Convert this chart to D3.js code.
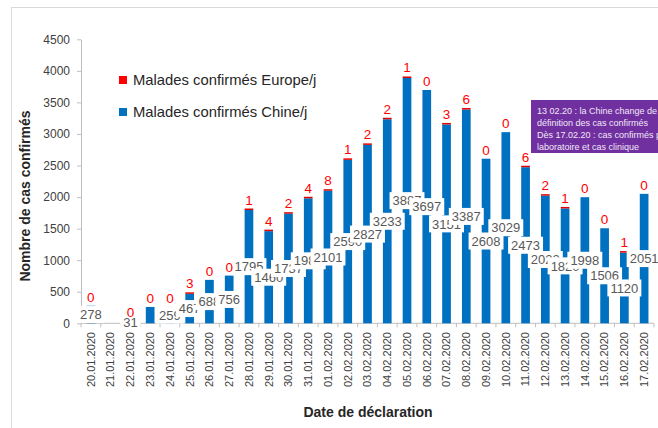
<!DOCTYPE html>
<html>
<head>
<meta charset="utf-8">
<script src="https://cdn.jsdelivr.net/npm/d3@7"></script>
<style>
  body { margin: 0; background: #fff; }
  svg { display: block; font-family: "Liberation Sans", Arial, sans-serif; }
</style>
</head>
<body>
<div id="chart"></div>
<script>
// Data
var dates = ['20.01.2020', '21.01.2020', '22.01.2020', '23.01.2020', '24.01.2020', '25.01.2020',
  '26.01.2020', '27.01.2020', '28.01.2020', '29.01.2020', '30.01.2020', '31.01.2020',
  '01.02.2020', '02.02.2020', '03.02.2020', '04.02.2020', '05.02.2020', '06.02.2020',
  '07.02.2020', '08.02.2020', '09.02.2020', '10.02.2020', '11.02.2020', '12.02.2020',
  '13.02.2020', '14.02.2020', '15.02.2020', '16.02.2020', '17.02.2020'];
var chine = [278, null, 31, 259, 259, 467, 688, 756, 1795, 1460, 1737, 1981, 2101, 2590, 2827,
  3233, 3887, 3697, 3151, 3387, 2608, 3029, 2473, 2022, 1820, 1998, 1506, 1120, 2051];
var europe = [0, null, 0, 0, 0, 3, 0, 0, 1, 4, 2, 4, 8, 1, 2, 2, 1, 0, 3, 6, 0, 0, 6, 2, 1, 0, 0, 1, 0];
// the original shows no label on this bar
var noLabel = ['23.01.2020'];
var yTicks = [0, 500, 1000, 1500, 2000, 2500, 3000, 3500, 4000, 4500];
var seriesNames = ['Malades confirmés Europe/j', 'Malades confirmés Chine/j'];
var noteLines = ['13 02.20 : la Chine change de', 'définition  des cas confirmés',
  'Dès 17.02.20 :  cas confirmés par', 'laboratoire et cas clinique'];

var width = 658, height = 428;
var blue = '#0070C0', red = '#FF0000';

var svg = d3.select('#chart')
  .append('svg')
  .attr('width', width)
  .attr('height', height);

// frame
svg.append('rect')
  .attr('x', 11.5).attr('y', 7.5)
  .attr('width', 700).attr('height', 500)
  .attr('fill', 'none')
  .attr('stroke', '#d9d9d9');

var xScale = d3.scaleBand()
  .domain(dates)
  .range([81, 654])
  .paddingInner(0.56)
  .paddingOuter(0.28);
var yScale = d3.scaleLinear()
  .domain([0, 4500])
  .range([323.3, 39.3]);

// Y-Axis
var yAxis = svg.append('g')
  .attr('transform', 'translate(81,0)')
  .call(d3.axisLeft(yScale).tickValues(yTicks).tickFormat(d3.format('d'))
    .tickSize(4).tickPadding(7).tickSizeOuter(0));
yAxis.select('.domain').attr('stroke', '#bfbfbf');
yAxis.selectAll('line').attr('stroke', '#bfbfbf');
yAxis.selectAll('text')
  .attr('fill', '#404040')
  .style('font-size', '12px');

svg.append('text')
  .attr('transform', 'translate(30,196)rotate(-90)')
  .attr('text-anchor', 'middle')
  .style('font-size', '14px')
  .style('font-weight', 'bold')
  .attr('fill', '#262626')
  .text('Nombre de cas confirmés');

// X-Axis
var y0 = yScale(0);
svg.append('line')
  .attr('x1', 81).attr('x2', 654)
  .attr('y1', y0).attr('y2', y0)
  .attr('stroke', '#bfbfbf');
var step = xScale.step();
svg.selectAll('.xtick')
  .data(d3.range(dates.length + 1))
  .enter()
  .append('line')
  .attr('class', 'xtick')
  .attr('x1', function (i) { return 81 + i * step; })
  .attr('x2', function (i) { return 81 + i * step; })
  .attr('y1', y0).attr('y2', y0 + 4)
  .attr('stroke', '#bfbfbf');
svg.selectAll('.xlabel')
  .data(dates)
  .enter()
  .append('text')
  .attr('class', 'xlabel')
  .attr('text-anchor', 'end')
  .attr('dy', '0.35em')
  .attr('transform', function (d) {
    return 'translate(' + (xScale(d) + xScale.bandwidth() / 2) + ',332)rotate(-90)';
  })
  .attr('fill', '#404040')
  .style('font-size', '11px')
  .text(function (d) { return d; });

svg.append('text')
  .attr('x', 368)
  .attr('y', 417)
  .attr('text-anchor', 'middle')
  .style('font-size', '14px')
  .style('font-weight', 'bold')
  .attr('fill', '#262626')
  .text('Date de déclaration');

// Bars
var rows = dates.map(function (d, i) {
  return { date: d, chine: chine[i], europe: europe[i] };
});
var bw = xScale.bandwidth();

svg.selectAll('.chine')
  .data(rows.filter(function (r) { return r.chine != null; }))
  .enter()
  .append('rect')
  .attr('class', 'chine')
  .attr('x', function (r) { return xScale(r.date); })
  .attr('y', function (r) { return yScale(r.chine); })
  .attr('width', bw)
  .attr('height', function (r) { return y0 - yScale(r.chine); })
  .attr('fill', blue);

function capTop(r) {
  var base = yScale(r.chine || 0);
  if (!r.europe) return base;
  return Math.min(yScale((r.chine || 0) + r.europe), base - 1.5);
}

svg.selectAll('.europe')
  .data(rows.filter(function (r) { return r.europe > 0; }))
  .enter()
  .append('rect')
  .attr('class', 'europe')
  .attr('x', function (r) { return xScale(r.date); })
  .attr('y', capTop)
  .attr('width', bw)
  .attr('height', function (r) { return yScale(r.chine) - capTop(r); })
  .attr('fill', '#e00000');

// China labels (white boxes in the middle of the bars)
var labels = svg.selectAll('.clabel')
  .data(rows.filter(function (r) { return r.chine != null && noLabel.indexOf(r.date) < 0; }))
  .enter()
  .append('g')
  .attr('class', 'clabel')
  .attr('transform', function (r) {
    var cy = (y0 + yScale(r.chine)) / 2;
    return 'translate(' + (xScale(r.date) + bw / 2) + ',' + cy + ')';
  });
labels.append('text')
  .attr('text-anchor', 'middle')
  .attr('dy', '0.36em')
  .attr('fill', '#595959')
  .style('font-size', '13px')
  .text(function (r) { return r.chine; })
  .each(function () {
    var b = this.getBBox();
    d3.select(this.parentNode).insert('rect', 'text')
      .attr('x', b.x - 3)
      .attr('y', -8.5)
      .attr('width', b.width + 6)
      .attr('height', 17)
      .attr('fill', '#fff');
  });

// Europe labels above the bars
svg.selectAll('.elabel')
  .data(rows.filter(function (r) { return r.europe != null; }))
  .enter()
  .append('text')
  .attr('class', 'elabel')
  .attr('x', function (r) { return xScale(r.date) + bw / 2; })
  .attr('y', function (r) { return capTop(r) - 4; })
  .attr('text-anchor', 'middle')
  .attr('fill', red)
  .style('font-size', '13.5px')
  .text(function (r) { return r.europe; });

// Legend
var legendColors = [red, blue];
seriesNames.forEach(function (name, i) {
  svg.append('rect')
    .attr('x', 119)
    .attr('y', 76 + i * 32)
    .attr('width', 8)
    .attr('height', 8)
    .attr('fill', legendColors[i]);
  svg.append('text')
    .attr('x', 133)
    .attr('y', 85 + i * 32)
    .attr('fill', '#262626')
    .style('font-size', '14.8px')
    .text(name);
});

// Note box
svg.append('rect')
  .attr('x', 531)
  .attr('y', 100)
  .attr('width', 140)
  .attr('height', 53)
  .attr('fill', '#7030A0');
svg.selectAll('.note')
  .data(noteLines)
  .enter()
  .append('text')
  .attr('class', 'note')
  .attr('x', 537)
  .attr('y', function (d, i) { return 113.5 + i * 12.2; })
  .attr('fill', '#f0e8f6')
  .style('font-size', '9px')
  .text(function (d) { return d; });
</script>
</body>
</html>
